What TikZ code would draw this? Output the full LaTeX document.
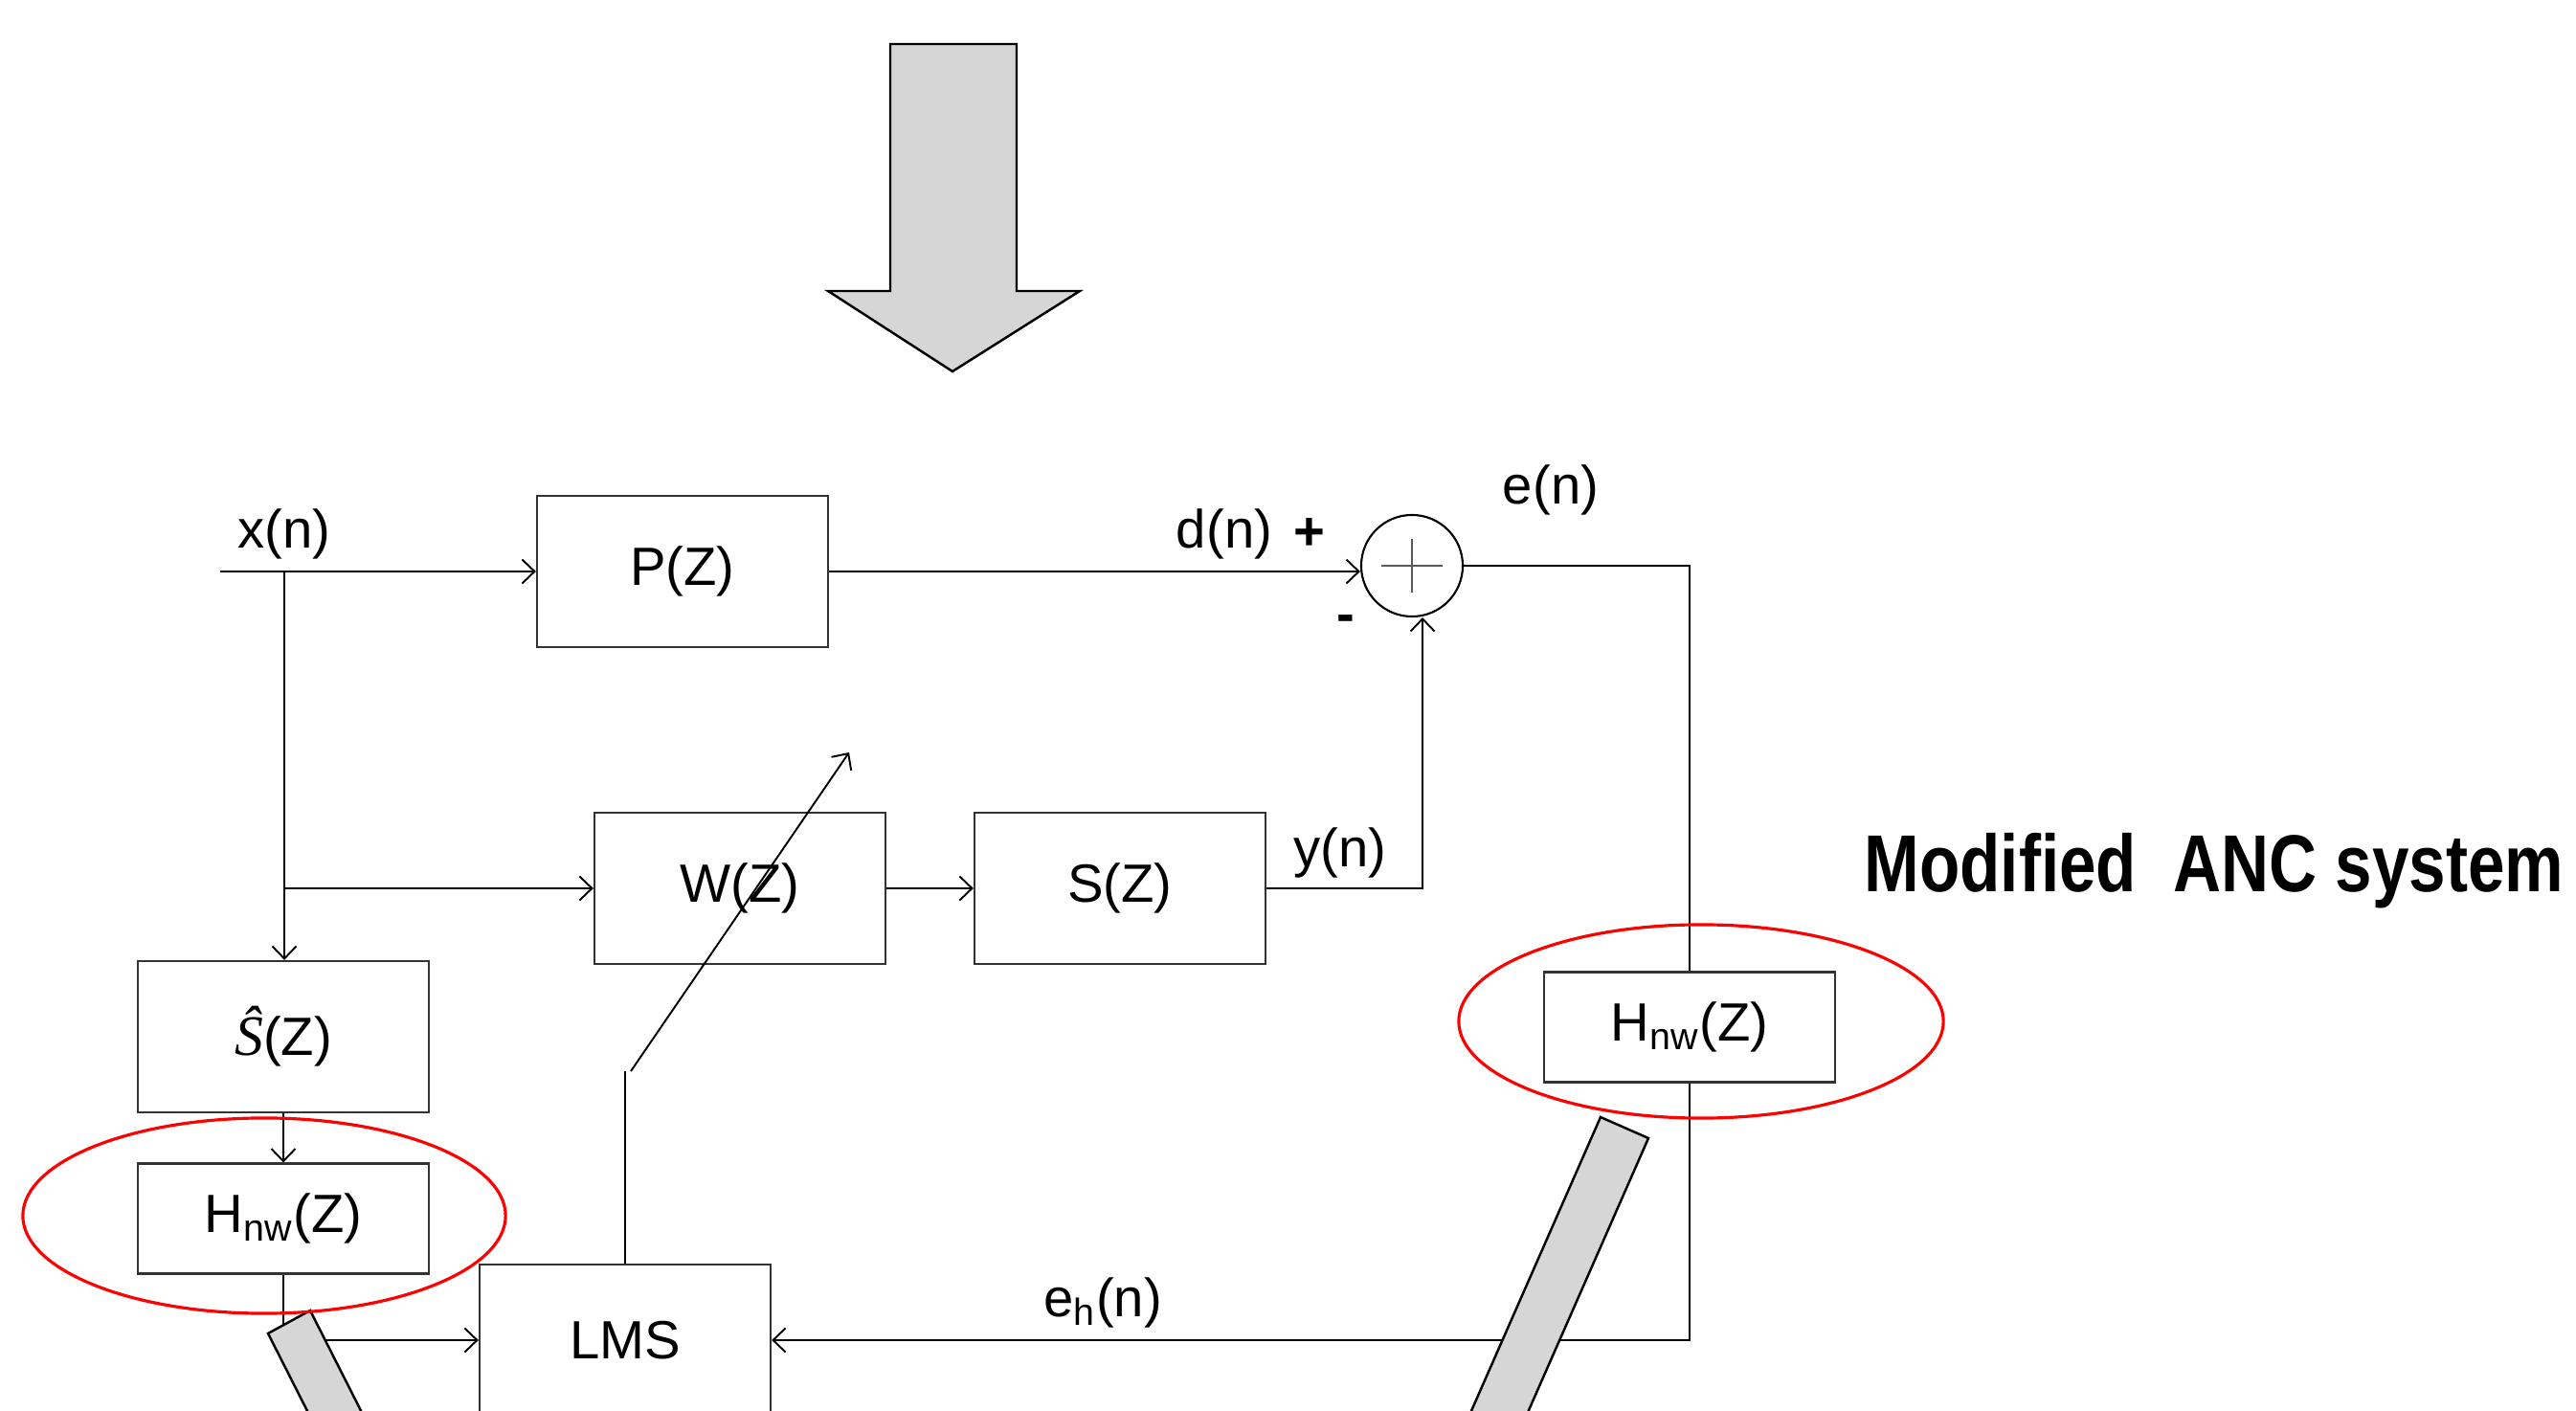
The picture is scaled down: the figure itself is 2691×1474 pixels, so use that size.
\documentclass[tikz,border=0pt]{standalone}
\usepackage{fontspec}
\setmainfont{Liberation Sans}
\newfontfamily\timesf{Liberation Serif}
\usepackage{graphicx}
\usetikzlibrary{arrows.meta,calc}
\definecolor{bargray}{HTML}{D6D6D6}
\definecolor{boxline}{HTML}{333333}
\definecolor{ringred}{HTML}{FF0000}
\tikzset{
  >={Straight Barb[length=1.3mm,width=2.5mm]},
  % blocks
  blk/.style={draw=boxline,line width=0.6pt,minimum width=3.04cm,minimum height=1.58cm,
              inner sep=0pt,font=\fontsize{16}{19}\selectfont},
  blks/.style={blk,minimum height=1.15cm},
  sumc/.style={circle,draw,line width=0.6pt,minimum size=1.06cm,inner sep=0pt},
  % signals
  sig/.style={->,line width=0.55pt},
  wire/.style={line width=0.55pt},
  lbl/.style={font=\fontsize{16}{19}\selectfont,inner sep=0pt},
  sgn/.style={font=\fontsize{16}{19}\selectfont\bfseries,inner sep=0pt},
  ring/.style={draw=ringred,line width=0.9pt},
  slab/.style={fill=bargray,draw=black,line width=0.7pt},
}

\begin{document}
\begin{tikzpicture}[x=0.01cm,y=-0.01cm]
  \clip (0,0) rectangle (2691,1474);
  \node[blk] (P) at (713,597) {P(Z)};
  \node[blk] (W) at (773,928) {W(Z)};
  \node[blk] (S) at (1170,928) {S(Z)};
  \node[blk] (Sh) at (296,1083) {{\timesf\itshape\fontsize{17}{19}\selectfont Ŝ}(Z)};
  \node[blks] (Hl) at (296,1273) {H\textsubscript{nw}(Z)};
  \node[blks] (Hr) at (1765,1073) {H\textsubscript{nw}(Z)};
  \node[blk] (LMS) at (653,1400) {LMS};
  \node[sumc] (sum) at (1475,591) {};
  \draw[line width=0.6pt,black!65] ($(sum)+(-32,0)$) -- ($(sum)+(32,0)$);
  \draw[line width=0.6pt,black!65] ($(sum)+(0,-28)$) -- ($(sum)+(0,28)$);
  \coordinate (xin) at (230,597);
  \coordinate (xb) at (297,597);
  \coordinate (wb) at (297,928);
  \coordinate (yb) at (1486,928);
  \coordinate (lt) at (653,1119);
  \coordinate (da) at (659,1119);
  \coordinate (db) at (887,786);
  \draw[sig] (xin) -- (P);
  \draw[sig] (xb) -- (xb |- Sh.north);
  \draw[sig] (wb) -- (W);
  \draw[sig] (W) -- (S);
  \draw[sig] (P) -- (P -| sum.west);
  \draw[sig] (S.east) -- (yb) -- (yb |- sum.south);
  \draw[wire] (sum.east) -| (Hr.north);
  \draw[sig] (Hr.south) |- (LMS.east);
  \draw[sig] (Sh) -- (Hl);
  \draw[sig] (Hl.south) |- (LMS.west);
  \draw[wire] (LMS.north) -- (lt);
  \draw[sig] (da) -- (db);
  \node[lbl] (xl) at (297,558) {x(n)};
  \node[lbl] (dl) at (1279,558) {d(n)};
  \node[sgn] (pl) at (1368,558) {+};
  \node[sgn] (ml) at (1406,652) {-};
  \node[lbl] (el) at (1620,512) {e(n)};
  \node[lbl] (yl) at (1400,891) {y(n)};
  \node[lbl] (ehl) at (1152,1361) {e\textsubscript{h}(n)};
  \node[font=\fontsize{24}{28}\selectfont\bfseries,anchor=base,inner sep=0pt] (ttl) at (2313,932)
    {\scalebox{0.82}[1]{Modified\ \ ANC system}};
  \draw[slab] (930,46) -- (1062,46) -- (1062,304) -- (1128,304) -- (995,388) -- (865,304) -- (930,304) -- cycle;
  \draw[slab] (280,1393) -- (324,1369) -- (437,1592) -- (393,1616) -- cycle;
  \draw[slab] (1672,1167) -- (1722,1189) -- (1561,1555) -- (1511,1533) -- cycle;
  \draw[ring] (276,1270) ellipse [x radius=2.52cm, y radius=1.02cm];
  \draw[ring] (1777,1067) ellipse [x radius=2.53cm, y radius=1.01cm];
\end{tikzpicture}
\end{document}
